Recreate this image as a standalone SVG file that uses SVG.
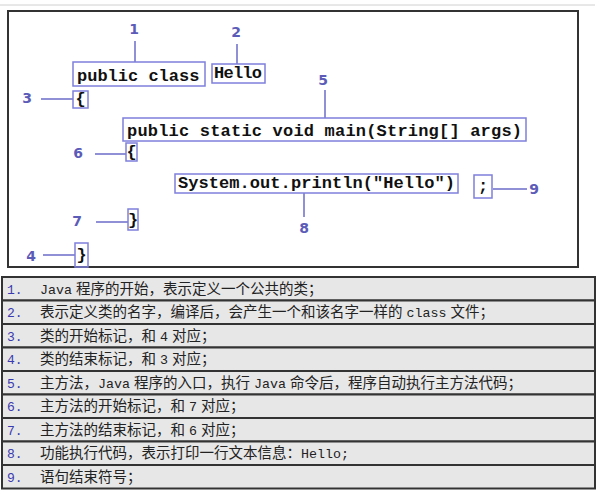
<svg xmlns="http://www.w3.org/2000/svg" width="601" height="499" viewBox="0 0 601 499">
<style>
.box{fill:none;stroke:#7f7fdc;stroke-width:1.5}
.code{font-family:"Liberation Mono","Courier New",monospace;font-weight:bold;font-size:17px;fill:#111}
.lbl{font-family:"DejaVu Sans","Liberation Sans",sans-serif;font-weight:bold;font-size:14px;fill:#5c5cb8;text-anchor:middle}
.ln{stroke:#6b6bc8;stroke-width:1.5;fill:none}
.row{fill:#e7e7e7;stroke:#333;stroke-width:2}
.num{font-family:"Liberation Mono","Courier New",monospace;font-size:13px;fill:#3a3ab0}
.txt{font-family:"Liberation Sans","Noto Sans CJK SC",sans-serif;font-size:14.5px;fill:#222}
.m{font-family:"Liberation Mono","Courier New",monospace;font-size:13.3px}
</style>
<rect width="601" height="499" fill="#fff"/>
<line x1="0" y1="5" x2="595" y2="5" stroke="#d0d0d0" stroke-width="1"/>
<rect x="8" y="11" width="570" height="256" fill="#fff" stroke="#333" stroke-width="2"/>
<g id="connectors">
<line class="ln" x1="135" y1="41" x2="135" y2="62"/>
<line class="ln" x1="237" y1="44" x2="237" y2="64"/>
<line class="ln" x1="41" y1="99" x2="73" y2="99"/>
<line class="ln" x1="325" y1="90" x2="325" y2="118"/>
<line class="ln" x1="95" y1="154" x2="126" y2="154"/>
<line class="ln" x1="96" y1="222" x2="128" y2="222"/>
<line class="ln" x1="43" y1="255" x2="75" y2="255"/>
<line class="ln" x1="493" y1="189" x2="527" y2="189"/>
<line class="ln" x1="304" y1="193" x2="304" y2="217"/>
</g>
<g id="n1"><rect class="box" x="73" y="62" width="132" height="24"/><text class="code" x="77" y="81">public class</text><text class="lbl" x="134" y="34">1</text></g>
<g id="n2"><rect class="box" x="212" y="64" width="53" height="19"/><text class="code" x="214" y="78" font-size="16" textLength="48">Hello</text><text class="lbl" x="236" y="37">2</text></g>
<g id="n3"><rect class="box" x="73" y="91" width="15" height="17"/><text class="code" x="75.5" y="104">{</text><text class="lbl" x="27" y="103">3</text></g>
<g id="n5"><rect class="box" x="123" y="118" width="403" height="23"/><text class="code" x="127" y="136" textLength="395">public static void main(String[] args)</text><text class="lbl" x="323" y="85">5</text></g>
<g id="n6"><rect class="box" x="126" y="143" width="11" height="18"/><text class="code" x="126.5" y="157">{</text><text class="lbl" x="78" y="158">6</text></g>
<g id="n8"><rect class="box" x="175" y="174" width="283" height="19"/><text class="code" x="178" y="188" textLength="277">System.out.println("Hello")</text><text class="lbl" x="304" y="233">8</text></g>
<g id="n9"><rect class="box" x="474" y="175" width="18" height="23"/><text class="code" x="478" y="191">;</text><text class="lbl" x="534" y="194">9</text></g>
<g id="n7"><rect class="box" x="128" y="209" width="10" height="21"/><text class="code" x="128" y="225">}</text><text class="lbl" x="77" y="226">7</text></g>
<g id="n4"><rect class="box" x="75" y="243" width="13" height="24"/><text class="code" x="76.5" y="260">}</text><text class="lbl" x="31" y="261">4</text></g>
<g id="table">
<rect class="row" x="2" y="277" width="593" height="23.5"/>
<rect class="row" x="2" y="300.5" width="593" height="23.5"/>
<rect class="row" x="2" y="324" width="593" height="23.5"/>
<rect class="row" x="2" y="347.5" width="593" height="23.5"/>
<rect class="row" x="2" y="371" width="593" height="23.5"/>
<rect class="row" x="2" y="394.5" width="593" height="23.5"/>
<rect class="row" x="2" y="418" width="593" height="23.5"/>
<rect class="row" x="2" y="441.5" width="593" height="23.5"/>
<rect class="row" x="2" y="465" width="593" height="23.5"/>
<text class="num" x="7" y="294">1.</text><text class="txt" x="40" y="294"><tspan class="m">Java</tspan> 程序的开始，表示定义一个公共的类；</text>
<text class="num" x="7" y="317">2.</text><text class="txt" x="40" y="317">表示定义类的名字，编译后，会产生一个和该名字一样的 <tspan class="m">class</tspan> 文件；</text>
<text class="num" x="7" y="341">3.</text><text class="txt" x="40" y="341">类的开始标记，和 <tspan class="m">4</tspan> 对应；</text>
<text class="num" x="7" y="364">4.</text><text class="txt" x="40" y="364">类的结束标记，和 <tspan class="m">3</tspan> 对应；</text>
<text class="num" x="7" y="388">5.</text><text class="txt" x="40" y="388">主方法，<tspan class="m">Java</tspan> 程序的入口，执行 <tspan class="m">Java</tspan> 命令后，程序自动执行主方法代码；</text>
<text class="num" x="7" y="411">6.</text><text class="txt" x="40" y="411">主方法的开始标记，和 <tspan class="m">7</tspan> 对应；</text>
<text class="num" x="7" y="435">7.</text><text class="txt" x="40" y="435">主方法的结束标记，和 <tspan class="m">6</tspan> 对应；</text>
<text class="num" x="7" y="458">8.</text><text class="txt" x="40" y="458">功能执行代码，表示打印一行文本信息：<tspan class="m">Hello;</tspan></text>
<text class="num" x="7" y="482">9.</text><text class="txt" x="40" y="482">语句结束符号；</text>
</g>
</svg>
